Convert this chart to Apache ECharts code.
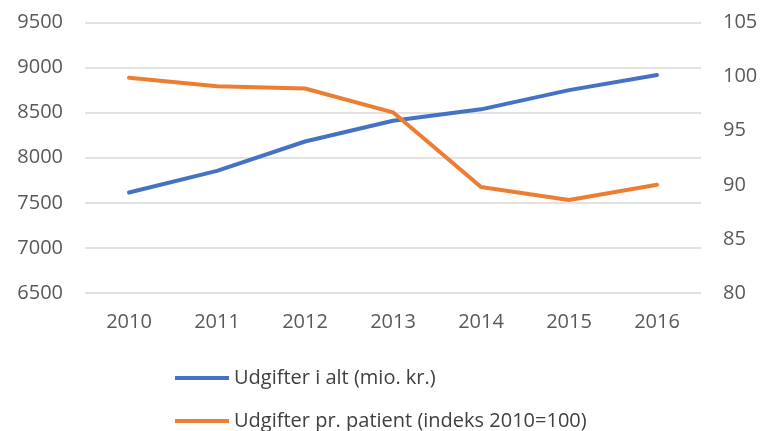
<!DOCTYPE html>
<html><head><meta charset="utf-8">
<script src="https://cdn.jsdelivr.net/npm/echarts@6/dist/echarts.min.js"></script>
<style>html,body{margin:0;padding:0;background:#fff}#c{width:761px;height:431px}</style>
</head><body><div id="c"></div>
<script>
const categories = ['2010','2011','2012','2013','2014','2015','2016'];
const udgifterIAlt = [7615, 7855, 8180, 8410, 8537, 8750, 8918];
const udgifterPrPatient = [99.9, 99.1, 98.9, 96.7, 89.8, 88.6, 90.0];
const leftTicks = {min: 6500, max: 9500, interval: 500};
const rightTicks = {min: 80, max: 105, interval: 5};
const seriesNames = ['Udgifter i alt (mio. kr.)', 'Udgifter pr. patient (indeks 2010=100)'];

const font = 'Open Sans';
const legendCommon = {
  orient: 'horizontal', left: 170,
  itemWidth: 54, itemHeight: 4, icon: 'rect',
  textStyle: {fontFamily: font, fontSize: 20, color: '#404040'}
};
const chart = echarts.init(document.getElementById('c'), null, {renderer: 'canvas'});
chart.setOption({
  animation: false,
  backgroundColor: '#fff',
  grid: {left: 85, right: 60, top: 22.5, bottom: 138, containLabel: false},
  legend: [
    Object.assign({}, legendCommon, {top: 363, data: [seriesNames[0]]}),
    Object.assign({}, legendCommon, {top: 406, data: [seriesNames[1]]})
  ],
  xAxis: {
    type: 'category', data: categories, boundaryGap: true,
    axisLine: {show: false}, axisTick: {show: false},
    axisLabel: {fontFamily: font, fontSize: 20, color: '#595959', margin: 19}
  },
  yAxis: [
    {type: 'value', min: leftTicks.min, max: leftTicks.max, interval: leftTicks.interval,
     axisLine: {show: false}, axisTick: {show: false},
     splitLine: {lineStyle: {color: '#d9d9d9', width: 1.5}},
     axisLabel: {fontFamily: font, fontSize: 20, color: '#595959', margin: 22, formatter: v => String(v)}},
    {type: 'value', min: rightTicks.min, max: rightTicks.max, interval: rightTicks.interval,
     position: 'right',
     axisLine: {show: false}, axisTick: {show: false}, splitLine: {show: false},
     axisLabel: {fontFamily: font, fontSize: 20, color: '#595959', margin: 22, formatter: v => String(v)}}
  ],
  series: [
    {name: seriesNames[0], type: 'line', yAxisIndex: 0, data: udgifterIAlt,
     symbol: 'none', color: '#4472C4', lineStyle: {width: 4, color: '#4472C4', cap: 'round'}},
    {name: seriesNames[1], type: 'line', yAxisIndex: 1, data: udgifterPrPatient,
     symbol: 'none', color: '#ED7D31', lineStyle: {width: 4, color: '#ED7D31', cap: 'round'}}
  ]
});
</script></body></html>
